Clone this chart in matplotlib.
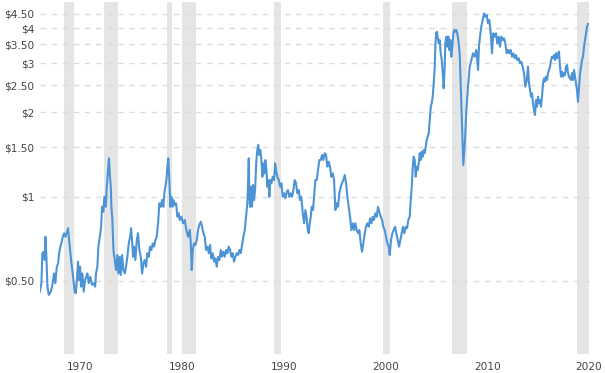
import matplotlib
matplotlib.use("Agg")
import matplotlib.pyplot as plt
from matplotlib.ticker import FixedLocator, NullLocator

# ---- data (x in chart years as labelled on the axis, price in USD/lb) ----
years = [
 1965.99,1966.15,1966.24,1966.38,1966.48,1966.54,1966.64,1966.74,1966.87,1967.07,
 1967.20,1967.30,1967.39,1967.52,1967.66,1967.79,1967.89,1968.01,1968.11,1968.25,
 1968.38,1968.51,1968.67,1968.77,1968.87,1968.97,1969.10,1969.23,1969.33,1969.43,
 1969.53,1969.66,1969.75,1969.85,1969.95,1970.05,1970.18,1970.31,1970.44,1970.57,
 1970.67,1970.81,1970.96,1971.13,1971.30,1971.43,1971.52,1971.65,1971.75,1971.89,
 1972.02,1972.11,1972.24,1972.34,1972.48,1972.58,1972.67,1972.77,1972.80,
 1972.87,1972.97,1973.03,1973.13,1973.23,1973.36,1973.49,1973.62,1973.72,1973.85,
 1973.95,1974.08,1974.21,1974.35,1974.47,1974.60,1974.74,1974.87,1974.97,1975.06,
 1975.16,1975.26,1975.39,1975.53,1975.65,1975.78,1975.92,1976.05,1976.18,1976.31,
 1976.44,1976.57,1976.71,1976.83,1976.96,1977.10,1977.23,1977.36,1977.49,1977.62,
 1977.75,1977.89,1978.01,1978.14,1978.24,1978.34,1978.44,1978.54,1978.63,1978.73,
 1978.83,1978.93,1979.03,1979.13,1979.26,1979.39,1979.52,1979.66,
 1979.75,1979.91,1980.08,1980.25,1980.40,1980.57,1980.74,1980.84,1980.93,1981.03,
 1981.16,1981.29,1981.43,1981.55,1981.68,1981.82,1981.95,1982.08,1982.21,1982.34,
 1982.47,1982.61,1982.73,1982.86,1983.00,1983.13,1983.26,1983.39,1983.52,1983.65,
 1983.79,1983.91,1984.04,1984.18,1984.31,1984.44,1984.57,1984.70,1984.83,1984.97,
 1985.09,1985.22,1985.36,1985.49,1985.62,1985.75,1985.88,1986.01,1986.15,1986.27,
 1986.40,1986.47,1986.54,1986.60,1986.67,
 1986.77,1986.86,1986.96,1987.06,1987.16,1987.29,1987.38,1987.48,1987.58,1987.68,
 1987.78,1987.88,1987.98,1988.07,1988.17,1988.27,1988.37,1988.47,1988.57,1988.66,
 1988.76,1988.90,1989.03,1989.13,1989.22,1989.35,1989.49,1989.62,1989.75,1989.88,
 1990.01,1990.14,1990.28,1990.40,1990.53,1990.67,1990.80,1990.93,1991.06,1991.19,
 1991.32,1991.46,1991.58,1991.71,1991.85,1991.98,1992.11,1992.24,1992.34,1992.44,
 1992.54,1992.64,1992.73,1992.86,1992.96,1993.09,1993.23,1993.35,1993.48,
 1993.62,1993.75,1993.87,1994.01,1994.14,1994.27,1994.41,1994.53,1994.66,1994.80,
 1994.93,1995.06,1995.19,1995.32,1995.45,1995.59,1995.71,1995.84,1995.98,1996.11,
 1996.24,1996.37,1996.50,1996.63,1996.77,1996.89,1997.02,1997.16,1997.29,1997.42,
 1997.55,1997.68,1997.81,1997.95,1998.07,1998.20,1998.34,1998.47,1998.60,1998.73,
 1998.86,1998.99,1999.13,1999.25,1999.38,1999.52,1999.65,1999.77,1999.91,2000.04,
 2000.17,2000.31,
 2000.40,2000.53,2000.66,2000.80,2000.93,2001.05,2001.19,2001.32,2001.45,2001.58,
 2001.71,2001.84,2001.98,2002.11,2002.23,2002.37,2002.47,2002.57,2002.67,2002.76,
 2002.86,2002.96,2003.06,2003.16,2003.26,2003.35,2003.45,2003.55,2003.65,2003.75,
 2003.85,2003.94,2004.04,2004.14,2004.24,2004.34,2004.44,2004.53,2004.63,2004.73,
 2004.83,2004.89,2004.96,2005.03,2005.12,2005.22,2005.32,2005.42,2005.52,2005.62,
 2005.71,2005.81,2005.87,2005.97,2006.07,2006.17,2006.26,2006.36,2006.46,2006.56,
 2006.66,2006.76,2006.86,2006.95,2007.05,2007.19,2007.29,2007.46,2007.64,2007.81,
 2007.94,2008.10,2008.27,2008.43,2008.60,2008.76,2008.92,2009.09,2009.18,2009.28,
 2009.41,2009.55,2009.68,2009.80,2009.94,2010.07,2010.20,2010.34,2010.46,2010.59,
 2010.73,2010.86,2010.98,2011.12,2011.25,2011.38,2011.52,2011.64,2011.77,2011.91,
 2012.04,2012.17,2012.30,2012.43,2012.56,2012.70,2012.82,2012.95,2013.09,2013.22,
 2013.34,2013.48,2013.61,2013.74,2013.88,2014.00,
 2014.10,2014.20,2014.30,2014.40,2014.50,2014.59,2014.69,2014.79,2014.89,2014.99,
 2015.09,2015.18,2015.28,2015.38,2015.48,2015.58,2015.68,2015.77,2015.87,2015.97,
 2016.07,2016.17,2016.27,2016.36,2016.46,2016.56,2016.66,2016.76,2016.86,2016.95,
 2017.05,2017.15,2017.25,2017.35,2017.45,2017.54,2017.64,2017.74,2017.84,2017.94,
 2018.04,2018.13,2018.23,2018.33,2018.43,2018.53,2018.63,2018.72,2018.82,2018.92,
 2019.02,2019.12,2019.22,2019.31,2019.41,2019.51,2019.61,2019.71,2019.81,2019.90,
]

prices = [
 0.457,0.490,0.627,0.635,0.593,0.718,0.609,0.476,0.445,0.457,
 0.476,0.503,0.531,0.490,0.561,0.577,0.627,0.662,0.680,0.718,
 0.739,0.718,0.748,0.770,0.699,0.644,0.577,0.531,0.490,0.457,
 0.451,0.517,0.585,0.503,0.561,0.476,0.531,0.457,0.503,0.517,
 0.531,0.490,0.517,0.483,0.490,0.476,0.531,0.561,0.662,0.718,
 0.780,0.919,0.882,0.998,0.919,1.084,1.210,1.350,1.369,
 1.210,1.084,0.919,0.824,0.644,0.593,0.546,0.618,0.531,0.609,
 0.524,0.618,0.546,0.531,0.561,0.609,0.680,0.718,0.770,0.699,
 0.609,0.662,0.593,0.699,0.739,0.644,0.609,0.531,0.577,0.593,
 0.561,0.627,0.609,0.662,0.644,0.680,0.662,0.699,0.718,0.802,
 0.946,0.919,0.972,0.919,1.027,1.084,1.145,1.278,1.369,1.145,
 0.919,0.998,0.919,0.972,0.932,0.946,0.847,0.871,
 0.824,0.847,0.802,0.824,0.759,0.718,0.759,0.680,0.546,0.644,
 0.680,0.671,0.699,0.759,0.791,0.813,0.780,0.739,0.718,0.644,
 0.662,0.627,0.671,0.601,0.627,0.585,0.601,0.561,0.609,0.593,
 0.644,0.609,0.635,0.609,0.644,0.627,0.662,0.644,0.609,0.627,
 0.585,0.609,0.627,0.618,0.644,0.627,0.671,0.718,0.759,0.847,
 0.946,1.115,1.369,0.998,0.919,
 1.084,0.919,1.099,0.972,1.055,1.350,1.466,1.528,1.407,1.466,
 1.350,1.177,1.314,1.210,1.350,1.261,1.084,1.145,0.998,1.145,
 1.115,1.177,1.145,1.314,1.244,1.177,1.145,1.084,1.115,0.998,
 1.027,0.985,1.040,1.055,0.998,1.027,0.998,1.055,1.145,1.115,
 1.027,1.055,0.972,0.998,0.871,0.802,0.895,0.836,0.759,0.739,
 0.802,0.847,0.919,0.895,0.998,1.145,1.145,1.244,1.350,
 1.350,1.407,1.350,1.427,1.407,1.278,1.332,1.278,1.177,1.210,
 1.145,0.895,0.946,0.919,1.027,1.084,1.115,1.145,1.194,1.115,
 0.998,0.919,0.847,0.759,0.802,0.759,0.802,0.759,0.739,0.759,
 0.680,0.635,0.680,0.739,0.780,0.802,0.780,0.836,0.802,0.847,
 0.824,0.871,0.847,0.919,0.882,0.847,0.824,0.780,0.759,0.718,
 0.680,0.662,
 0.618,0.699,0.739,0.759,0.780,0.739,0.699,0.662,0.699,0.739,
 0.780,0.739,0.780,0.770,0.824,0.847,0.972,1.084,1.278,1.388,
 1.350,1.177,1.278,1.244,1.314,1.427,1.350,1.446,1.388,1.466,
 1.427,1.507,1.592,1.636,1.682,1.877,2.094,2.153,2.274,2.539,
 2.910,3.431,3.831,3.882,3.726,3.528,3.626,3.250,3.075,2.757,
 2.436,2.910,3.528,3.726,3.431,3.726,3.339,3.626,3.160,3.431,
 3.831,3.936,3.882,3.936,3.831,3.528,3.204,2.038,1.296,1.592,
 2.038,2.469,2.910,3.075,3.250,3.160,3.339,2.832,3.431,3.726,
 4.045,4.274,4.517,4.392,4.454,4.160,4.274,3.831,3.250,3.831,
 3.726,3.831,3.528,3.726,3.431,3.726,3.626,3.677,3.528,3.250,
 3.339,3.250,3.339,3.160,3.250,3.119,3.204,3.075,3.119,2.993,
 3.033,2.910,2.757,2.469,2.609,2.910,
 2.539,2.402,2.274,2.338,2.153,2.038,1.956,2.213,2.094,2.274,
 2.153,2.213,2.094,2.274,2.539,2.645,2.572,2.681,2.609,2.757,
 2.832,2.910,3.075,3.160,3.119,3.204,3.075,3.250,3.119,3.250,
 3.293,2.910,2.681,2.793,2.681,2.757,2.718,2.910,2.951,2.757,
 2.681,2.645,2.609,2.757,2.609,2.832,2.681,2.539,2.402,2.182,
 2.469,2.757,2.910,3.075,3.160,3.431,3.626,3.831,4.045,4.136,
]

recession_start = [1968.38, 1972.31, 1978.51, 1979.98, 1989.03, 1999.75, 2006.53, 2018.82]
recession_end   = [1969.36, 1973.69, 1979.00, 1981.31, 1989.72, 2000.43, 2008.01, 2020.00]

y_ticks = [0.5, 1, 1.5, 2, 2.5, 3, 3.5, 4, 4.5]
y_labels = ["$0.50", "$1", "$1.50", "$2", "$2.50", "$3", "$3.50", "$4", "$4.50"]
x_ticks = [1970, 1980, 1990, 2000, 2010, 2020]
x_labels = ["1970", "1980", "1990", "2000", "2010", "2020"]

# ---- figure ----
W, H = 605, 373
fig = plt.figure(figsize=(W / 100, H / 100), dpi=100)
ax = fig.add_axes([39.7 / W, (H - 354) / H, (590 - 39.7) / W, (354 - 2) / H])

ax.set_yscale("log")
ax.set_xlim(1965.98, 2020.10)
ax.set_ylim(0.2736, 4.957)

for s, e in zip(recession_start, recession_end):
    ax.axvspan(s, e, color="#e5e5e5", lw=0, zorder=0)

ax.plot(years, prices, color="#4d94d6", lw=1.5, zorder=3, solid_joinstyle="round")

ax.yaxis.set_major_locator(FixedLocator(y_ticks))
ax.yaxis.set_minor_locator(NullLocator())
ax.set_yticklabels(y_labels)
ax.set_xticks(x_ticks)
ax.set_xticklabels(x_labels)

ax.grid(axis="y", color="#dcdcdc", linestyle=(0, (4, 4)), linewidth=1.0, zorder=1)
ax.grid(axis="x", visible=False)
for sp in ax.spines.values():
    sp.set_visible(False)
ax.tick_params(axis="both", length=0, labelsize=7.6, colors="#444444")
ax.tick_params(axis="y", pad=4)
ax.tick_params(axis="x", pad=6)
ax.set_facecolor("white")
fig.patch.set_facecolor("white")

fig.savefig("out.png", dpi=100)
